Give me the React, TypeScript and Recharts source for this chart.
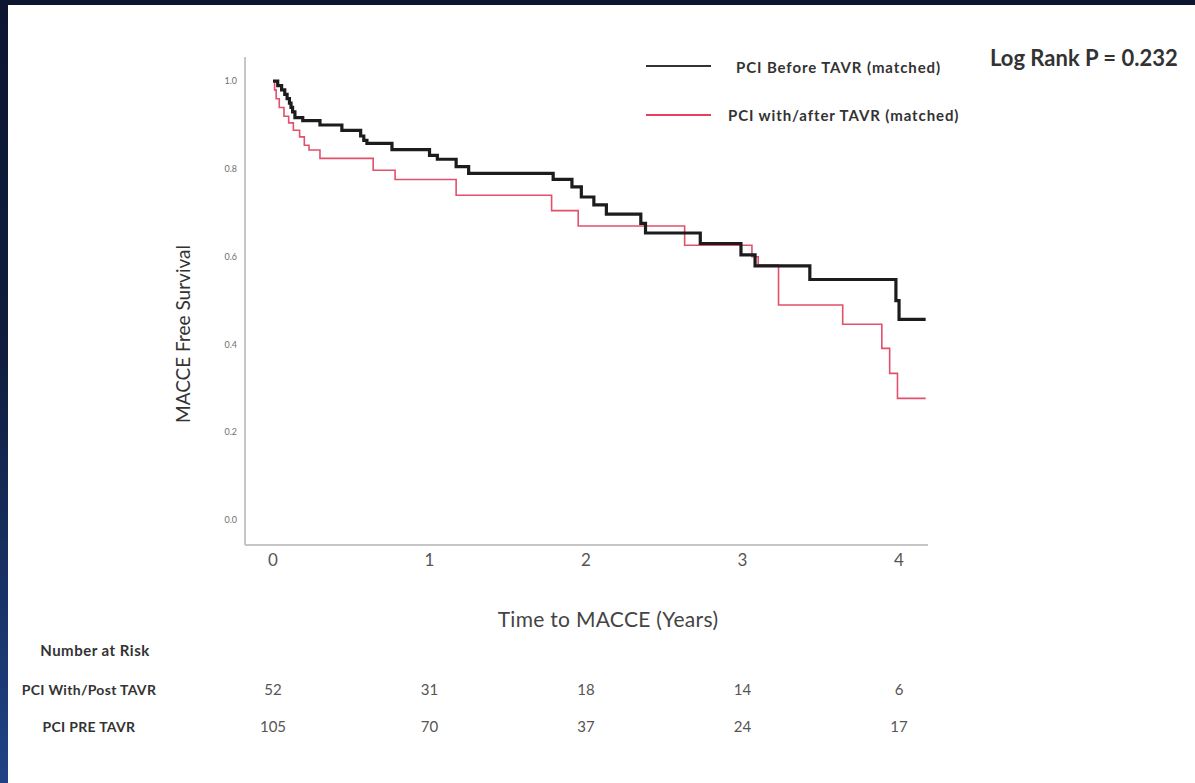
import { LineChart, Line, XAxis, YAxis } from "recharts";

// Kaplan-Meier steps (time in years, survival)
const beforeTime = [
  0, 0.03, 0.055, 0.075, 0.09, 0.105, 0.115, 0.125, 0.14, 0.19, 0.3, 0.44,
  0.56, 0.58, 0.6, 0.76, 1.0, 1.05, 1.17, 1.25, 1.79, 1.91, 1.97, 2.05, 2.13,
  2.35, 2.38, 2.73, 2.99, 3.08, 3.43, 3.98, 4.0, 4.17,
];
const beforeSurvival = [
  1.0, 0.99, 0.98, 0.97, 0.96, 0.95, 0.94, 0.93, 0.917, 0.91, 0.9, 0.888,
  0.875, 0.865, 0.858, 0.844, 0.831, 0.822, 0.805, 0.79, 0.776, 0.759, 0.736,
  0.718, 0.697, 0.676, 0.654, 0.63, 0.604, 0.579, 0.548, 0.5, 0.457, 0.457,
];

const afterTime = [
  0, 0.01, 0.02, 0.04, 0.07, 0.1, 0.13, 0.17, 0.2, 0.23, 0.3, 0.64, 0.78,
  1.17, 1.78, 1.95, 2.63, 3.06, 3.1, 3.23, 3.64, 3.89, 3.94, 3.99, 4.17,
];
const afterSurvival = [
  1.0, 0.98, 0.96, 0.94, 0.92, 0.905, 0.888, 0.873, 0.854, 0.843, 0.824,
  0.797, 0.776, 0.74, 0.705, 0.67, 0.626, 0.6, 0.581, 0.49, 0.446, 0.391,
  0.334, 0.277, 0.277,
];

const yearTicks = [0, 1, 2, 3, 4];
const survivalTicks = [0, 0.2, 0.4, 0.6, 0.8, 1.0];

const riskLabels = ["PCI With/Post TAVR", "PCI PRE TAVR"];
const riskWithPost = [52, 31, 18, 14, 6];
const riskPre = [105, 70, 37, 24, 17];

const W = 1195;
const H = 783;
const plot = { left: 245, top: 57, right: 928, bottom: 545 };
const xDomain: [number, number] = [-0.179, 4.185];
const yDomain: [number, number] = [-0.057, 1.055];

const FONT = "Lato, 'Open Sans', sans-serif";

const toRows = (t: number[], s: number[]) =>
  t.map((time, i) => ({ time, value: s[i] }));

const xPos = (t: number) =>
  plot.left +
  ((t - xDomain[0]) / (xDomain[1] - xDomain[0])) * (plot.right - plot.left);

const abs = (extra: React.CSSProperties): React.CSSProperties => ({
  position: "absolute",
  fontFamily: FONT,
  whiteSpace: "nowrap",
  ...extra,
});

export default function App() {
  const beforeRows = toRows(beforeTime, beforeSurvival);
  const afterRows = toRows(afterTime, afterSurvival);

  return (
    <div
      style={{
        position: "absolute",
        left: 0,
        top: 0,
        width: W,
        height: H,
        overflow: "hidden",
        background: "linear-gradient(to bottom, #0d1630 0%, #101d3e 45%, #1f4386 100%)",
      }}
    >
      <div
        style={{
          position: "absolute",
          left: 8,
          top: 5,
          right: 0,
          bottom: 0,
          background: "#ffffff",
        }}
      />

      <div style={{ position: "absolute", left: 0, top: 0 }}>
        <LineChart
          width={W}
          height={H}
          margin={{
            top: plot.top,
            right: W - plot.right,
            bottom: H - plot.bottom - 40,
            left: plot.left - 60,
          }}
        >
          <XAxis
            dataKey="time"
            type="number"
            domain={xDomain}
            ticks={yearTicks}
            allowDataOverflow
            height={40}
            tickLine={false}
            tickSize={0}
            tickMargin={9}
            axisLine={{ stroke: "#c6c6c6", strokeWidth: 2 }}
            tick={{ fill: "#555", fontSize: 17, fontFamily: FONT }}
          />
          <YAxis
            type="number"
            domain={yDomain}
            ticks={survivalTicks}
            allowDataOverflow
            width={60}
            tickLine={false}
            tickSize={0}
            tickMargin={8}
            tickFormatter={(v: number) => v.toFixed(1)}
            axisLine={{ stroke: "#c6c6c6", strokeWidth: 2 }}
            tick={{ fill: "#6f6f6f", fontSize: 9, fontFamily: FONT }}
          />
          <Line
            data={afterRows}
            dataKey="value"
            type="stepAfter"
            stroke="#e2506b"
            strokeWidth={1.6}
            dot={false}
            isAnimationActive={false}
          />
          <Line
            data={beforeRows}
            dataKey="value"
            type="stepAfter"
            stroke="#1c1c1c"
            strokeWidth={3.2}
            dot={false}
            isAnimationActive={false}
          />
        </LineChart>
      </div>

      {/* axis titles */}
      <div
        style={abs({
          left: 182,
          top: 334,
          transform: "translate(-50%, -50%) rotate(-90deg)",
          fontSize: 19,
          color: "#333",
        })}
      >
        MACCE Free Survival
      </div>
      <div
        style={abs({
          left: 608,
          top: 618,
          transform: "translate(-50%, -50%)",
          fontSize: 21,
          letterSpacing: 0.3,
          color: "#444",
        })}
      >
        Time to MACCE (Years)
      </div>

      {/* legend */}
      <div style={abs({ left: 646, top: 65, width: 65, height: 2, background: "#333" })} />
      <div
        style={abs({
          left: 736,
          top: 67,
          transform: "translateY(-50%)",
          fontSize: 15,
          letterSpacing: 0.9,
          fontWeight: 700,
          color: "#333",
        })}
      >
        PCI Before TAVR (matched)
      </div>
      <div style={abs({ left: 646, top: 114, width: 65, height: 2, background: "#e8405c" })} />
      <div
        style={abs({
          left: 728,
          top: 115,
          transform: "translateY(-50%)",
          fontSize: 15,
          letterSpacing: 0.9,
          fontWeight: 700,
          color: "#333",
        })}
      >
        PCI with/after TAVR (matched)
      </div>

      <div
        style={abs({
          left: 990,
          top: 57,
          transform: "translateY(-50%)",
          fontSize: 22,
          fontWeight: 700,
          color: "#333",
        })}
      >
        Log Rank P = 0.232
      </div>

      {/* number at risk table */}
      <div
        style={abs({
          left: 95,
          top: 650,
          transform: "translate(-50%, -50%)",
          fontSize: 15,
          letterSpacing: 0.5,
          fontWeight: 700,
          color: "#333",
        })}
      >
        Number at Risk
      </div>
      {[riskWithPost, riskPre].map((row, r) => (
        <div key={r}>
          <div
            style={abs({
              left: 89,
              top: 689 + r * 37,
              transform: "translate(-50%, -50%)",
              fontSize: 14,
              letterSpacing: 0.3,
              fontWeight: 700,
              color: "#333",
            })}
          >
            {riskLabels[r]}
          </div>
          {row.map((n, i) => (
            <div
              key={i}
              style={abs({
                left: xPos(yearTicks[i]),
                top: 689 + r * 37,
                transform: "translate(-50%, -50%)",
                fontSize: 15,
                color: "#555",
              })}
            >
              {n}
            </div>
          ))}
        </div>
      ))}
    </div>
  );
}
